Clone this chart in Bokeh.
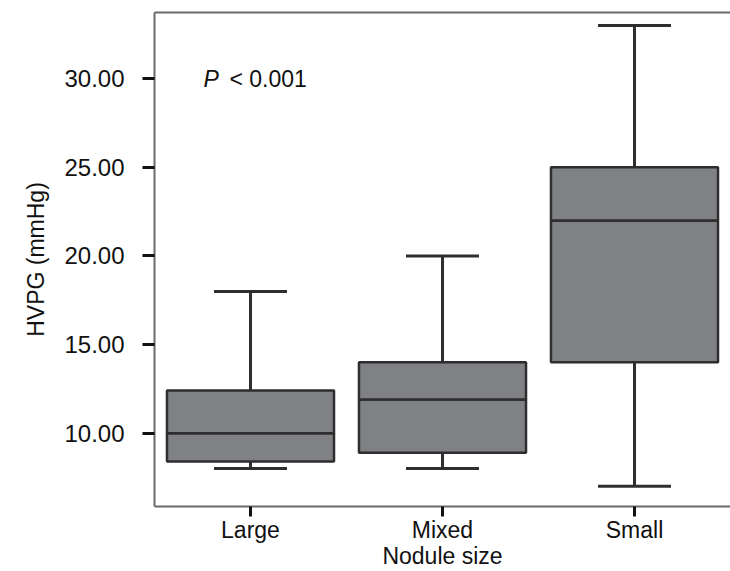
from bokeh.plotting import figure
from bokeh.models import (ColumnDataSource, FactorRange, Range1d, FixedTicker,
                          PrintfTickFormatter, Whisker, TeeHead, Label, LinearAxis)
from bokeh.embed import file_html
from bokeh.resources import INLINE

categories = ["Large", "Mixed", "Small"]
lower_whisker = [8.0, 8.0, 7.0]
q1 = [8.4, 8.9, 14.0]
median = [10.0, 11.9, 22.0]
q3 = [12.4, 14.0, 25.0]
upper_whisker = [18.0, 20.0, 33.0]
y_ticks = [10, 15, 20, 25, 30]

src = ColumnDataSource(dict(cat=categories, lw=lower_whisker, q1=q1, med=median,
                            q3=q3, uw=upper_whisker))

FONT = "Liberation Sans"
FILL = "#808184"
LINE = "#2e2e2e"

p = figure(width=730, height=571, x_range=FactorRange(*categories, range_padding=0),
           y_range=Range1d(5.86, 33.74), output_backend="svg", toolbar_location=None,
           min_border_left=154, min_border_right=0, min_border_top=12, min_border_bottom=65)
p.outline_line_color = None
p.grid.grid_line_color = None
p.background_fill_color = "white"
p.border_fill_color = "white"

# whiskers
w_up = Whisker(base="cat", lower="q3", upper="uw", source=src, dimension="height",
               line_color=LINE, line_width=3,
               upper_head=TeeHead(size=73, line_color=LINE, line_width=3), lower_head=None)
w_lo = Whisker(base="cat", lower="lw", upper="q1", source=src, dimension="height",
               line_color=LINE, line_width=3,
               lower_head=TeeHead(size=73, line_color=LINE, line_width=3), upper_head=None)
w_up.level = "underlay"
w_lo.level = "underlay"
p.add_layout(w_up)
p.add_layout(w_lo)

# boxes
p.vbar(x="cat", bottom="q1", top="med", width=0.87, source=src,
       fill_color=FILL, line_color=LINE, line_width=2.5)
p.vbar(x="cat", bottom="med", top="q3", width=0.87, source=src,
       fill_color=FILL, line_color=LINE, line_width=2.5)

# axes
for ax in (p.xaxis[0], p.yaxis[0]):
    ax.axis_line_color = "#6a6a6a"
    ax.axis_line_width = 2
    ax.major_tick_line_color = "#111111"
    ax.major_tick_line_width = 3
    ax.major_tick_in = 0
    ax.minor_tick_line_color = None
    ax.major_label_text_font = FONT
    ax.major_label_text_color = "#111111"
    ax.axis_label_text_font = FONT
    ax.axis_label_text_font_style = "normal"
    ax.axis_label_text_color = "#111111"

p.yaxis.ticker = FixedTicker(ticks=y_ticks)
p.yaxis.formatter = PrintfTickFormatter(format="%.2f")
p.yaxis.major_tick_out = 12
p.yaxis.major_label_standoff = 18
p.yaxis.major_label_text_font_size = "24px"
p.yaxis.axis_label = "HVPG (mmHg)"
p.yaxis.axis_label_text_font_size = "23px"
p.yaxis.axis_label_standoff = 12

p.xaxis.major_tick_out = 10
p.xaxis.major_label_standoff = 0
p.xaxis.major_label_text_font_size = "23px"
p.xaxis.axis_label = "Nodule size"
p.xaxis.axis_label_text_font_size = "23px"
p.xaxis.axis_label_standoff = -3

top_axis = LinearAxis(axis_line_color="#6a6a6a", axis_line_width=2,
                      ticker=FixedTicker(ticks=[]),
                      major_tick_line_color=None, minor_tick_line_color=None,
                      major_tick_out=0, major_tick_in=0, major_label_standoff=0)
p.add_layout(top_axis, "above")

p.add_layout(Label(x=0.255, y=30, text="P", text_font=FONT, text_font_size="23px",
                   text_font_style="italic", text_baseline="middle", text_color="#111111"))
p.add_layout(Label(x=0.39, y=30, text="< 0.001", text_font=FONT, text_font_size="23px",
                   text_baseline="middle", text_color="#111111"))

open("out.html", "w").write(file_html(p, INLINE))
